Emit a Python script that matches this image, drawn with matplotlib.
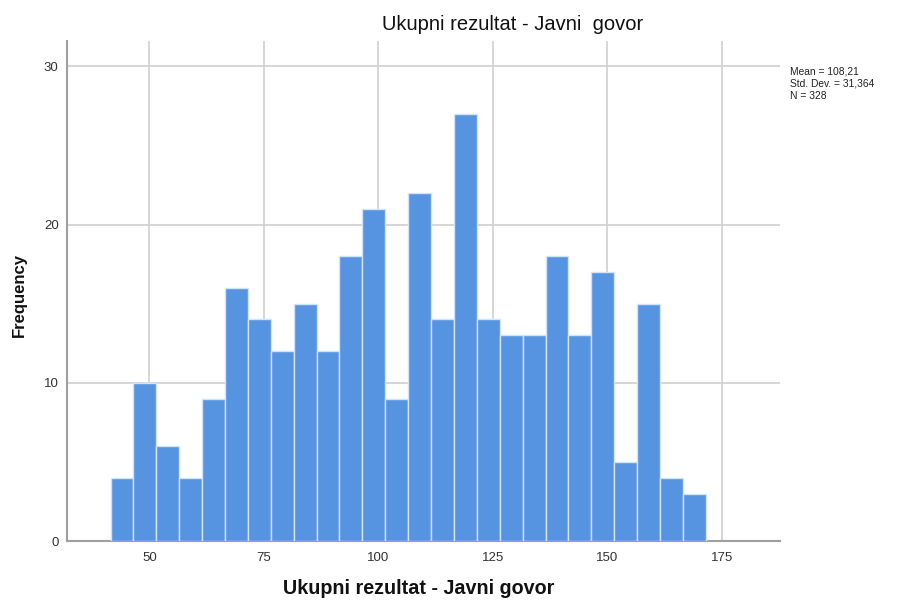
import matplotlib
matplotlib.use("Agg")
import matplotlib.pyplot as plt
import numpy as np

plt.rcParams['font.family'] = ['Liberation Sans', 'DejaVu Sans']

bin_start = 41.5
bin_width = 5.0
counts = [4, 10, 6, 4, 9, 16, 14, 12, 15, 12, 18, 21, 9, 22, 14, 27, 14, 13, 13, 18, 13, 17, 5, 15, 4, 3]
x_ticks = [50, 75, 100, 125, 150, 175]
y_ticks = [0, 10, 20, 30]
title = "Ukupni rezultat - Javni  govor"
xlabel = "Ukupni rezultat - Javni govor"
ylabel = "Frequency"
stats_text = "Mean = 108,21\nStd. Dev. = 31,364\nN = 328"

edges = bin_start + bin_width * np.arange(len(counts) + 1)

fig = plt.figure(figsize=(9.02, 6.01), dpi=100)
ax = fig.add_axes([67/902, 1 - 541/601, (780-67)/902, (541-41)/601])

ax.bar(edges[:-1], counts, width=bin_width, align='edge', color='#5694e2',
       edgecolor='#d2e2f7', linewidth=1.0, zorder=3)

ax.set_xlim(32.0, 187.7)
ax.set_ylim(0, 31.6)
ax.set_xticks(x_ticks)
ax.set_yticks(y_ticks)
ax.grid(True, color='#d0d0d0', linewidth=1.2, zorder=0)
for s in ['top', 'right']:
    ax.spines[s].set_visible(False)
for s in ['left', 'bottom']:
    ax.spines[s].set_color('#a0a0a0')
    ax.spines[s].set_linewidth(1.5)
ax.tick_params(axis='both', length=0, labelsize=9.5, colors='#333333', pad=8)
ax.tick_params(axis='y', pad=6)

fig.text(513/902, 1 - 24/601, title, ha='center', va='center', fontsize=14.5, color='#111111')
fig.text(419/902, 1 - 589/601, xlabel, ha='center', va='center', fontsize=14.2, fontweight='bold', color='#111111')
fig.text(19/902, 1 - 295/601, ylabel, ha='center', va='center', rotation=90, fontsize=12, fontweight='bold', color='#111111')
fig.text(790/902, 1 - 67/601, stats_text, ha='left', va='top', fontsize=7.4, linespacing=1.25, color='#222222')

fig.savefig('out.png', dpi=100)
